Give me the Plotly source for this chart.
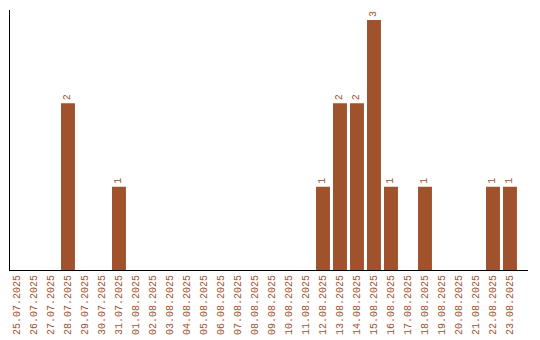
import plotly.graph_objects as go

dates = ["25.07.2025","26.07.2025","27.07.2025","28.07.2025","29.07.2025","30.07.2025",
         "31.07.2025","01.08.2025","02.08.2025","03.08.2025","04.08.2025","05.08.2025",
         "06.08.2025","07.08.2025","08.08.2025","09.08.2025","10.08.2025","11.08.2025",
         "12.08.2025","13.08.2025","14.08.2025","15.08.2025","16.08.2025","17.08.2025",
         "18.08.2025","19.08.2025","20.08.2025","21.08.2025","22.08.2025","23.08.2025"]
counts = [0,0,0,2,0,0,1,0,0,0,0,0,0,0,0,0,0,0,1,2,2,3,1,0,1,0,0,0,1,1]

color = "#A0522D"
labels = [str(c) if c > 0 else "" for c in counts]

fig = go.Figure(go.Bar(
    x=dates, y=counts, marker=dict(color=color, line=dict(width=0)),
    text=labels, textposition="outside", textangle=-90,
    textfont=dict(family="Liberation Mono", size=10, color=color),
    cliponaxis=False, width=0.82,
))
fig.update_layout(
    width=540, height=340, margin=dict(l=10, r=12, t=10, b=70),
    paper_bgcolor="white", plot_bgcolor="white", showlegend=False,
    bargap=0.18,
    xaxis=dict(type="category", range=[-0.41, 30.06], showline=True, linecolor="black",
               linewidth=1, ticks="", tickangle=-90, showgrid=False, automargin=False,
               tickfont=dict(family="Liberation Mono", size=10, color=color)),
    yaxis=dict(range=[0, 3.12], showline=True, linecolor="black", linewidth=1,
               showticklabels=False, ticks="", showgrid=False, zeroline=False,
               automargin=False),
    uniformtext=dict(minsize=6, mode="show"),
)
fig.write_html("out.html")
